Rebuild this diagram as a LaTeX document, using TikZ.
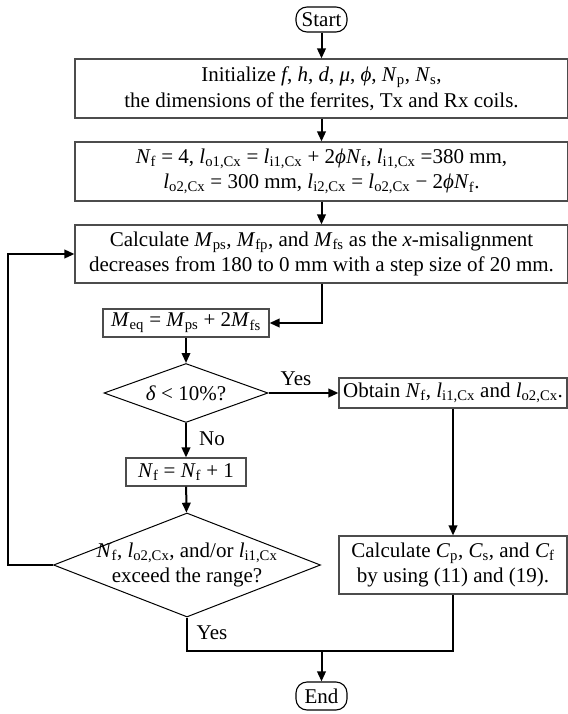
\documentclass[tikz,border=0pt]{standalone}
\usepackage{fontspec}
\setmainfont{Liberation Serif}
\usetikzlibrary{shapes.geometric,arrows.meta}
\newcommand{\vv}[2]{\textit{#1}\textsubscript{#2}}
\begin{document}
\begin{tikzpicture}[x=1pt,y=-1pt,
  font=\fontsize{21}{25.5}\selectfont,
  box/.style={draw=black!70,line width=1.1pt,rectangle,inner sep=0pt,align=center},
  term/.style={draw=black,line width=1.1pt,rounded corners=11pt,inner sep=0pt,minimum width=51pt},
  dia/.style={draw=black,line width=1pt,diamond,inner sep=0pt},
  line/.style={line width=2pt,black},
  arr/.style={line,-{Triangle[length=10pt,width=8.5pt]}},
  lbl/.style={inner sep=0pt,align=center}
]
\useasboundingbox (0,0) rectangle (567,714);
\node[term,minimum height=25pt] (start) at (321.5,19.5) {Start};
\node[box,minimum width=493pt,minimum height=59pt] (b1) at (321.5,88.5)
  {Initialize \textit{f}, \textit{h}, \textit{d}, \textit{μ}, \textit{ϕ}, \vv{N}{p}, \vv{N}{s},\\
   the dimensions of the ferrites, Tx and Rx coils.};
\node[box,minimum width=493pt,minimum height=59pt] (b2) at (321.5,171.5)
  {\vv{N}{f} = 4, \vv{l}{o1,Cx} = \vv{l}{i1,Cx} + 2\textit{ϕ}\vv{N}{f}, \vv{l}{i1,Cx} =380 mm,\\
   \vv{l}{o2,Cx} = 300 mm, \vv{l}{i2,Cx} = \vv{l}{o2,Cx} − 2\textit{ϕ}\vv{N}{f}.};
\node[box,minimum width=493pt,minimum height=58pt] (b3) at (321.5,254)
  {Calculate \vv{M}{ps}, \vv{M}{fp}, and \vv{M}{fs} as the \textit{x}-misalignment\\
   decreases from 180 to 0 mm with a step size of 20 mm.};
\node[box,minimum width=166pt,minimum height=28pt] (meq) at (186,323)
  {\vv{M}{eq} = \vv{M}{ps} + 2\vv{M}{fs}};
\node[dia,minimum width=164pt,minimum height=59pt] (d1) at (186,393) {};
\node[lbl] (d1t) at (186,393) {\textit{δ} < 10\%?};
\node[box,minimum width=228pt,minimum height=30pt] (ob) at (453,393)
  {Obtain \vv{N}{f}, \vv{l}{i1,Cx} and \vv{l}{o2,Cx}.};
\node[box,minimum width=120pt,minimum height=28pt] (nf) at (186,472)
  {\vv{N}{f} = \vv{N}{f} + 1};
\node[dia,minimum width=267pt,minimum height=104pt] (d2) at (187,565) {};
\node[lbl] (d2t) at (187,565) {\vv{N}{f}, \vv{l}{o2,Cx}, and/or \vv{l}{i1,Cx}\\ exceed the range?};
\node[box,minimum width=228pt,minimum height=58pt] (cb) at (453,565)
  {Calculate \vv{C}{p}, \vv{C}{s}, and \vv{C}{f}\\ by using (11) and (19).};
\node[term,minimum height=28pt] (end) at (321.5,696) {End};
\node[lbl] (yes1) at (296,379) {Yes};
\node[lbl] (no) at (212,439) {No};
\node[lbl] (yes2) at (212,633) {Yes};
\coordinate (lp) at (8,565);
\coordinate (jn) at (321.5,651);
\draw[arr] (start) -- (b1);
\draw[arr] (b1) -- (b2);
\draw[arr] (b2) -- (b3);
\draw[arr] (b3.south) |- (meq.east);
\draw[arr] (meq) -- (d1);
\draw[arr] (d1.east) -- (ob.west);
\draw[arr] (d1.south) -- (nf.north);
\draw[arr] (nf) -- (d2);
\draw[arr] (ob) -- (cb);
\draw[arr] (d2.west) -- (lp) |- (b3.west);
\draw[line] (d2.south) |- (jn);
\draw[line] (cb.south) |- (jn);
\draw[arr] (jn) -- (end);
\end{tikzpicture}
\end{document}
